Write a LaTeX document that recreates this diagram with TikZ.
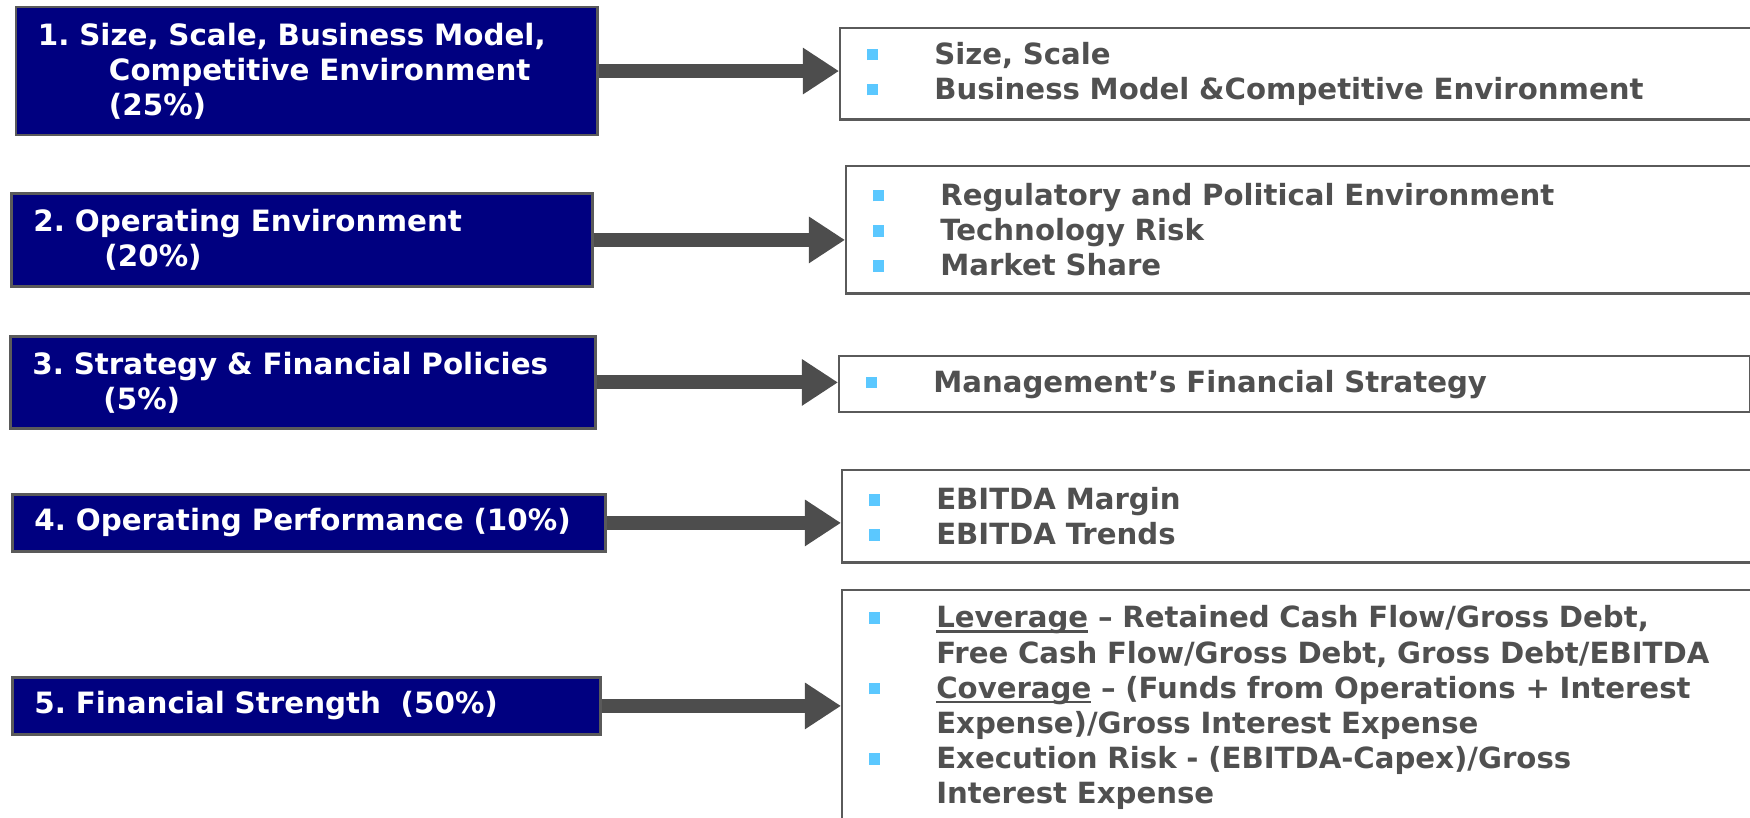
\documentclass[tikz,border=0pt]{standalone}
\usepackage{fontspec}
\setmainfont{DejaVu Sans}
\usetikzlibrary{arrows.meta}

\definecolor{boxnavy}{HTML}{000080}
\definecolor{boxline}{HTML}{5A5A5A}
\definecolor{arrowgray}{HTML}{4D4D4D}
\definecolor{bulletblue}{HTML}{5BC8FF}
\definecolor{itemgray}{HTML}{505050}

\frenchspacing

% square bullet and the matching indent for wrapped lines
\newcommand{\bul}{\makebox[0.67cm][l]{\textcolor{bulletblue}{\rule[0.04cm]{0.105cm}{0.115cm}}}}
\newcommand{\ind}{\hspace*{0.67cm}}
\newcommand{\sub}{\hspace*{0.71cm}}
% underline sitting just under the baseline
\newsavebox{\ubox}
\newcommand{\uword}[1]{\sbox{\ubox}{#1}\rlap{\rule[-0.05cm]{\wd\ubox}{0.7pt}}\usebox{\ubox}}

\tikzset{
  category/.style={draw=boxline, line width=0.8pt, fill=boxnavy, text=white,
    font=\bfseries\fontsize{8.35}{10}\selectfont, align=left, anchor=north west,
    inner xsep=0.22cm, inner ysep=0pt},
  details/.style={draw=boxline, line width=0.7pt, fill=white, text=itemgray,
    font=\bfseries\fontsize{8.3}{10}\selectfont, align=left, anchor=north west,
    inner xsep=0.27cm, inner ysep=0pt},
  weight/.style={draw=arrowgray, line width=0.14cm,
    -{Triangle[length=0.36cm,width=0.44cm]}}
}

\begin{document}
\begin{tikzpicture}[x=0.01cm, y=-0.01cm]

  \useasboundingbox (0,0) rectangle (1750,818);

  % rating factors
  \node [category, minimum width=5.81cm, minimum height=1.28cm, text width=5.37cm] (c1) at (14.5,5.6)
    {1. Size, Scale, Business Model,\\ \sub Competitive Environment\\ \sub (25\%)};
  \node [category, minimum width=5.81cm, minimum height=0.93cm, text width=5.37cm] (c2) at (10,192)
    {2. Operating Environment\\ \sub (20\%)};
  \node [category, minimum width=5.85cm, minimum height=0.92cm, text width=5.41cm] (c3) at (9,335)
    {3. Strategy \& Financial Policies\\ \sub (5\%)};
  \node [category, minimum width=5.93cm, minimum height=0.57cm, text width=5.49cm] (c4) at (11,493)
    {4. Operating Performance (10\%)};
  \node [category, minimum width=5.88cm, minimum height=0.57cm, text width=5.44cm] (c5) at (11,676)
    {5. Financial Strength~~(50\%)};

  % sub-factors
  \node [details, minimum width=9.2cm, minimum height=0.91cm, text width=8.66cm] (d1) at (839,27)
    {\bul Size, Scale\\ \bul Business Model \&Competitive Environment};
  \node [details, minimum width=9.2cm, minimum height=1.27cm, text width=8.66cm] (d2) at (845,165)
    {\bul Regulatory and Political Environment\\ \bul Technology Risk\\ \bul Market Share};
  \node [details, minimum width=9.10cm, minimum height=0.56cm, text width=8.56cm] (d3) at (838,355)
    {\bul Management’s Financial Strategy};
  \node [details, minimum width=9.2cm, minimum height=0.92cm, text width=8.66cm] (d4) at (841,469)
    {\bul EBITDA Margin\\ \bul EBITDA Trends};
  \node [details, minimum width=9.2cm, minimum height=2.35cm, text width=8.66cm] (d5) at (841,589)
    {\bul\uword{Leverage} – Retained Cash Flow/Gross Debt,\\
     \ind Free Cash Flow/Gross Debt, Gross Debt/EBITDA\\
     \bul\uword{Coverage} – (Funds from Operations + Interest\\
     \ind Expense)/Gross Interest Expense\\
     \bul Execution Risk - (EBITDA-Capex)/Gross\\
     \ind Interest Expense};

  % arrows
  \foreach \i in {1,...,5} {
    \draw [weight] (c\i.east) -- (c\i.east -| d\i.west);
  }

\end{tikzpicture}
\end{document}
